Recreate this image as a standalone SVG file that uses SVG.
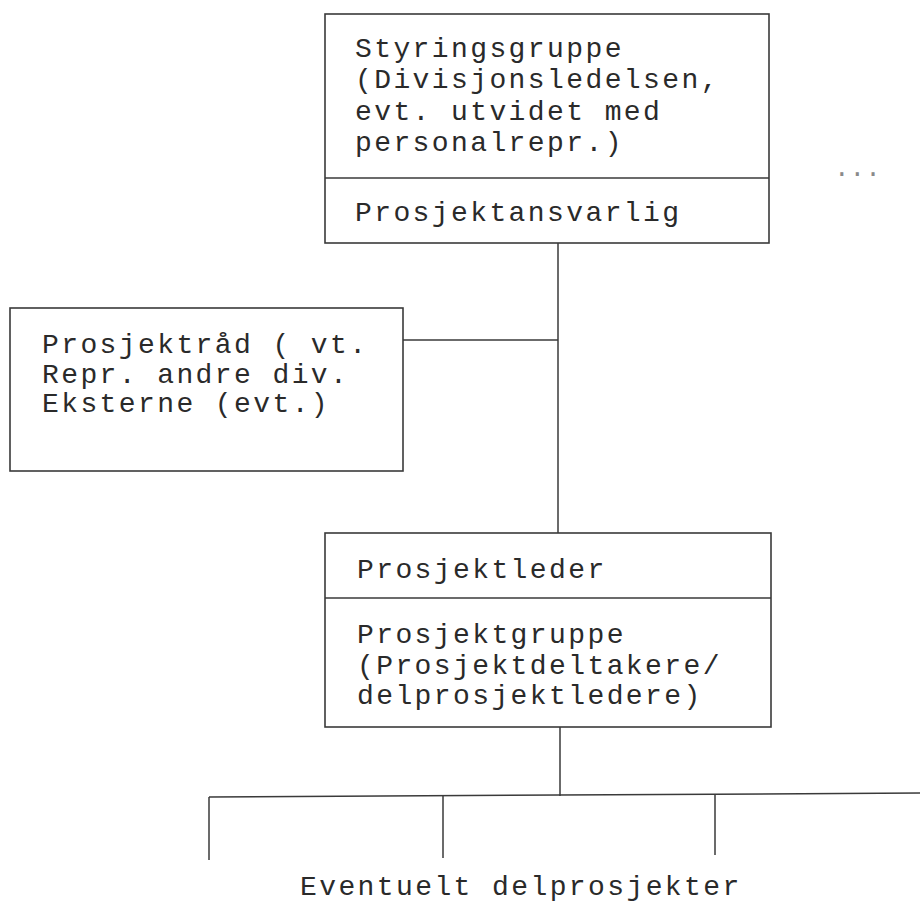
<svg xmlns="http://www.w3.org/2000/svg" width="920" height="909" viewBox="0 0 920 909">
  <style>
    .box { fill: none; stroke: #3a3a3a; stroke-width: 1.6; }
    .div { stroke: #3a3a3a; stroke-width: 1.6; }
    .wire { fill: none; stroke: #3a3a3a; stroke-width: 1.5; }
    .lbl { font-family: "Liberation Mono", "Courier New", monospace; font-size: 28px; letter-spacing: 2.4px; fill: #2a2a2a; }
    .dots { font-family: "Liberation Mono", "Courier New", monospace; font-size: 26px; fill: #8a8a8a; }
  </style>
  <rect width="920" height="909" fill="#ffffff"/>

  <!-- connectors -->
  <g id="connectors">
    <path class="wire" d="M558 243 V533"/>
    <path class="wire" d="M403 340 H558"/>
    <path class="wire" d="M560 727 V796"/>
    <path class="wire" d="M209 797 L920 793"/>
    <path class="wire" d="M209 797 V860"/>
    <path class="wire" d="M443 796 V858"/>
    <path class="wire" d="M715 795 V855"/>
  </g>

  <!-- steering group / project owner -->
  <g id="styringsgruppe">
    <rect class="box" x="325" y="14" width="444" height="229"/>
    <line class="div" x1="325" y1="178" x2="769" y2="178"/>
    <text class="lbl" x="355" y="57">Styringsgruppe</text>
    <text class="lbl" x="355" y="88">(Divisjonsledelsen,</text>
    <text class="lbl" x="355" y="120">evt. utvidet med</text>
    <text class="lbl" x="355" y="151">personalrepr.)</text>
    <text class="lbl" x="355" y="221">Prosjektansvarlig</text>
  </g>

  <text class="dots" x="834" y="176">...</text>

  <!-- project council -->
  <g id="prosjektraad">
    <rect class="box" x="10" y="308" width="393" height="163"/>
    <text class="lbl" x="42" y="353">Prosjektråd ( vt.</text>
    <text class="lbl" x="42" y="383">Repr. andre div.</text>
    <text class="lbl" x="42" y="412">Eksterne (evt.)</text>
  </g>

  <!-- project manager / project group -->
  <g id="prosjektleder">
    <rect class="box" x="325" y="533" width="446" height="194"/>
    <line class="div" x1="325" y1="598" x2="771" y2="598"/>
    <text class="lbl" x="357" y="578">Prosjektleder</text>
    <text class="lbl" x="357" y="643">Prosjektgruppe</text>
    <text class="lbl" x="357" y="674">(Prosjektdeltakere/</text>
    <text class="lbl" x="357" y="704">delprosjektledere)</text>
  </g>

  <!-- sub-projects -->
  <g id="delprosjekter">
    <text class="lbl" x="300" y="895">Eventuelt delprosjekter</text>
  </g>
</svg>
